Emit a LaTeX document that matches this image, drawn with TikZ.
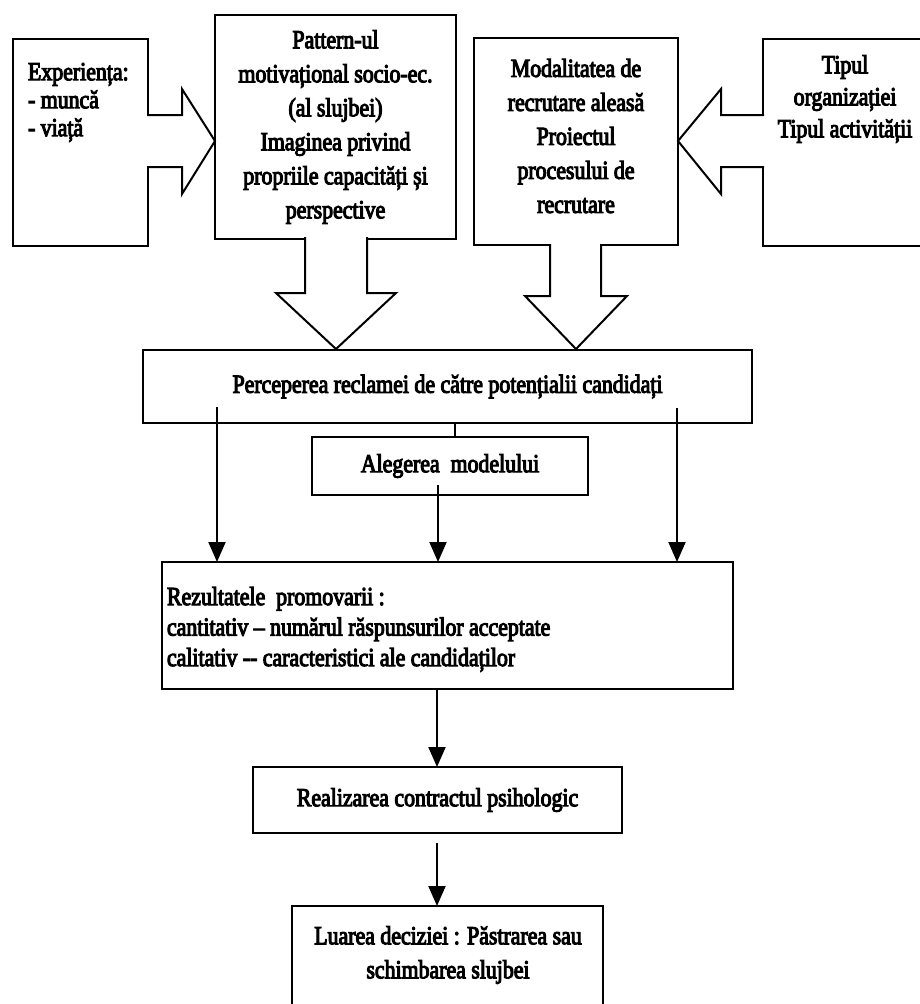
\documentclass[tikz,border=0pt]{standalone}
\usepackage{fontspec}
\setmainfont{Liberation Serif}[FakeStretch=0.84,FakeBold=4]
\usetikzlibrary{arrows.meta}
\begin{document}
\begin{tikzpicture}[x=1pt,y=-1pt,
  frame/.style={draw, line width=2pt, inner sep=0pt, outer sep=0pt, align=center,
                font=\fontsize{26}{34}\selectfont},
  blockarrow/.style={draw, fill=white, line width=2pt, line join=miter},
  txt/.style={inner sep=0pt, outer sep=0pt, font=\fontsize{26}{#1}\selectfont},
  txt/.default=31,
  link/.style={line width=2pt},
  flow/.style={line width=2pt, -{Triangle[length=20pt,width=17pt]}}
]
\clip (0,0) rectangle (920,1004);
\useasboundingbox (0,0) rectangle (920,1004);

% upper row of boxes
\node[frame, minimum width=135pt, minimum height=207pt] (E) at (80.5,142.5) {};
\node[frame, minimum width=241pt, minimum height=224pt] (P) at (335.5,127) {Pattern-ul\\motivațional socio-ec.\\(al slujbei)\\Imaginea privind\\propriile capacități și\\perspective};
\node[frame, minimum width=204pt, minimum height=207pt] (M) at (576,141.5) {};
\node[frame, minimum width=164pt, minimum height=207pt] (T) at (845,142.5) {};

\node[txt=28, align=left, anchor=north west] (Et) at (28,63) {Experiența:\\- muncă\\- viață};
\node[txt=34, align=center] (Mt) at (576,136) {Modalitatea de\\recrutare aleasă\\Proiectul\\procesului de\\recrutare};
\node[txt=32, align=center] (Tt) at (845,99) {Tipul\\organizației\\Tipul activității};

% block arrows
\path[blockarrow] (147,115) -- (182,115) -- (182,89) -- (215,141) -- (182,194) -- (182,167) -- (147,167);
\path[blockarrow] (764,115) -- (721,115) -- (721,89) -- (678,141) -- (721,194) -- (721,167) -- (764,167);
\path[blockarrow] (305,237) -- (305,293) -- (276,293) -- (336,349) -- (396,293) -- (367,293) -- (367,237);
\path[blockarrow] (550,244) -- (550,296) -- (525,296) -- (576,349) -- (627,296) -- (601,296) -- (601,244);

% middle and lower boxes
\node[frame, minimum width=609pt, minimum height=73pt] (Perc) at (447.5,386.5) {Perceperea reclamei de către potențialii candidați};
\node[frame, minimum width=276pt, minimum height=58pt] (Alg) at (450,466) {Alegerea\ \ modelului};
\node[frame, minimum width=571pt, minimum height=127pt] (R) at (447.5,625.5) {};
\node[txt=30.5, align=left, anchor=north west] (Rt) at (167,587) {Rezultatele\ \ promovarii :\\cantitativ – numărul răspunsurilor acceptate\\calitativ {-}{-} caracteristici ale candidaților};
\node[frame, minimum width=369pt, minimum height=66pt] (Real) at (437.5,800) {Realizarea contractul psihologic};
\node[frame, minimum width=311pt, minimum height=104pt] (Lua) at (447.5,958) {};
\node[txt=34, align=center] (Luat) at (448,955) {Luarea deciziei : Păstrarea sau\\schimbarea slujbei};

% connectors
\coordinate (tap) at (455,430);
\draw[link] (tap |- Perc.south) -- (tap |- Alg.north);
\coordinate (pl) at (217,407);
\draw[flow] (pl) -- (pl |- R.north);
\coordinate (pr) at (677,408);
\draw[flow] (pr) -- (pr |- R.north);
\coordinate (am) at (438,485);
\draw[flow] (am) -- (am |- R.north);
\coordinate (rc) at (437,700);
\draw[flow] (rc |- R.south) -- (rc |- Real.north);
\coordinate (lc) at (437,843);
\draw[flow] (lc) -- (lc |- Lua.north);
\end{tikzpicture}
\end{document}
